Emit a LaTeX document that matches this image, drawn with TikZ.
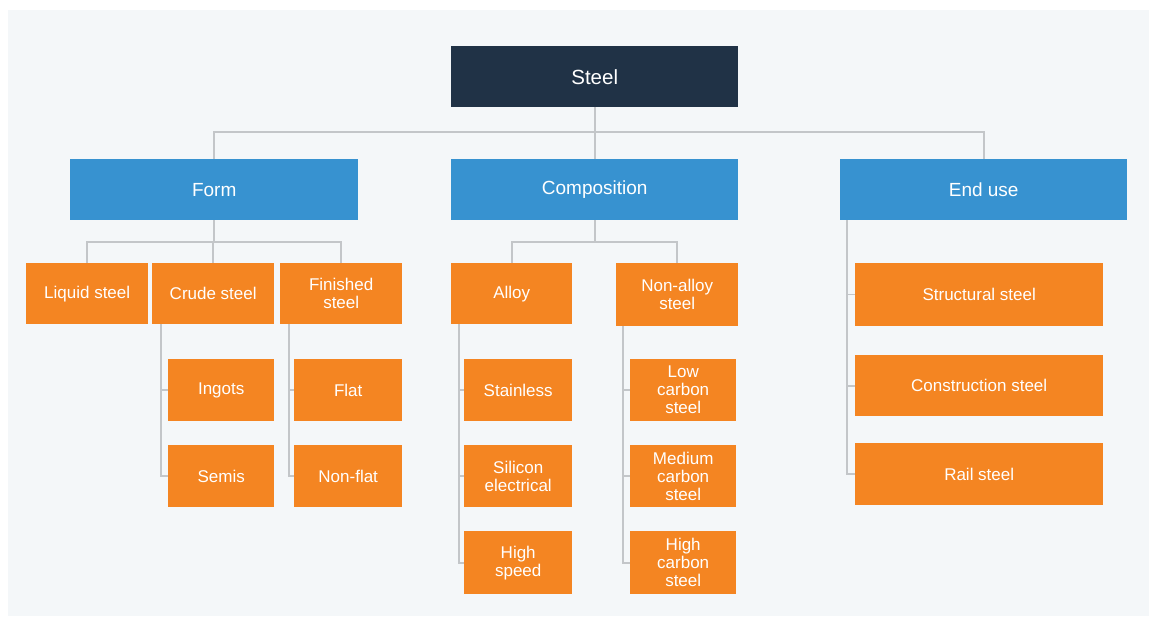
\documentclass[tikz,border=0pt]{standalone}
\usepackage{fontspec}
\setmainfont{Liberation Sans}
\definecolor{bgc}{HTML}{F4F7F9}
\definecolor{navy}{HTML}{203246}
\definecolor{bluec}{HTML}{3792D0}
\definecolor{orangec}{HTML}{F48522}
\definecolor{linec}{HTML}{C3C6C9}
\tikzset{
  basebox/.style={rectangle, inner sep=0pt, anchor=north west, text=white, align=center},
  topbox/.style={basebox, fill=navy, font=\fontsize{20.5}{22}\selectfont},
  bluebox/.style={basebox, fill=bluec, font=\fontsize{19}{21}\selectfont},
  obox/.style={basebox, fill=orangec, font=\fontsize{17}{18}\selectfont},
  conn/.style={draw=linec, line width=1.6pt},
}
\begin{document}
\begin{tikzpicture}[x=1pt,y=-1pt]
\useasboundingbox (0,0) rectangle (1150,617);
\fill[white] (0,0) rectangle (1150,617);
\fill[bgc] (8,10) rectangle (1149,616);

% nodes
\node[topbox, minimum width=287pt, minimum height=61pt] (steel) at (451,46) {Steel};
\node[bluebox, minimum width=288pt, minimum height=61pt] (form) at (70,159) {Form};
\node[bluebox, minimum width=287pt, minimum height=61pt] (comp) at (451,159) {Composition};
\node[bluebox, minimum width=287pt, minimum height=61pt] (enduse) at (840,159) {End use};

\node[obox, minimum width=122pt, minimum height=61pt] (liquid) at (26,263) {Liquid steel};
\node[obox, minimum width=122pt, minimum height=61pt] (crude) at (152,263) {Crude steel};
\node[obox, minimum width=122pt, minimum height=61pt] (finished) at (280,263) {Finished\\steel};
\node[obox, minimum width=106pt, minimum height=62pt] (ingots) at (168,359) {Ingots};
\node[obox, minimum width=106pt, minimum height=62pt] (semis) at (168,445) {Semis};
\node[obox, minimum width=108pt, minimum height=62pt] (flat) at (294,359) {Flat};
\node[obox, minimum width=108pt, minimum height=62pt] (nonflat) at (294,445) {Non-flat};

\node[obox, minimum width=121pt, minimum height=61pt] (alloy) at (451,263) {Alloy};
\node[obox, minimum width=122pt, minimum height=63pt] (nonalloy) at (616,263) {Non-alloy\\steel};
\node[obox, minimum width=108pt, minimum height=62pt] (stainless) at (464,359) {Stainless};
\node[obox, minimum width=108pt, minimum height=62pt] (silicon) at (464,445) {Silicon\\electrical};
\node[obox, minimum width=108pt, minimum height=63pt] (hspeed) at (464,531) {High\\speed};
\node[obox, minimum width=106pt, minimum height=62pt] (lowc) at (630,359) {Low\\carbon\\steel};
\node[obox, minimum width=106pt, minimum height=62pt] (medc) at (630,445) {Medium\\carbon\\steel};
\node[obox, minimum width=106pt, minimum height=63pt] (highc) at (630,531) {High\\carbon\\steel};

\node[obox, minimum width=248pt, minimum height=63pt] (struct) at (855,263) {Structural steel};
\node[obox, minimum width=248pt, minimum height=61pt] (constr) at (855,355) {Construction steel};
\node[obox, minimum width=248pt, minimum height=62pt] (rail) at (855,443) {Rail steel};

% level 0 -> 1
\draw[conn] (steel.south) -- (comp.north);
\draw[conn] (form.north) -- ++(0,-27) -| (enduse.north);

% Form
\draw[conn] (form.south) -- ++(0,22);
\draw[conn] (liquid.north) -- ++(0,-21) -| (finished.north);
\draw[conn] (crude.north) -- ++(0,-21);
\coordinate (cb) at ([xshift=9pt]crude.south west);
\draw[conn] (cb) |- (semis.west);
\draw[conn] (cb |- ingots.west) -- (ingots.west);
\coordinate (fb) at ([xshift=9pt]finished.south west);
\draw[conn] (fb) |- (nonflat.west);
\draw[conn] (fb |- flat.west) -- (flat.west);

% Composition
\draw[conn] (comp.south) -- ++(0,22);
\draw[conn] (alloy.north) -- ++(0,-21) -| (nonalloy.north);
\coordinate (ab) at ([xshift=8pt]alloy.south west);
\draw[conn] (ab) |- (hspeed.west);
\draw[conn] (ab |- stainless.west) -- (stainless.west);
\draw[conn] (ab |- silicon.west) -- (silicon.west);
\coordinate (nb) at ([xshift=7pt]nonalloy.south west);
\draw[conn] (nb) |- (highc.west);
\draw[conn] (nb |- lowc.west) -- (lowc.west);
\draw[conn] (nb |- medc.west) -- (medc.west);

% End use
\coordinate (eb) at ([xshift=7pt]enduse.south west);
\draw[conn] (eb) |- (rail.west);
\draw[conn] (eb |- struct.west) -- (struct.west);
\draw[conn] (eb |- constr.west) -- (constr.west);
\end{tikzpicture}
\end{document}
